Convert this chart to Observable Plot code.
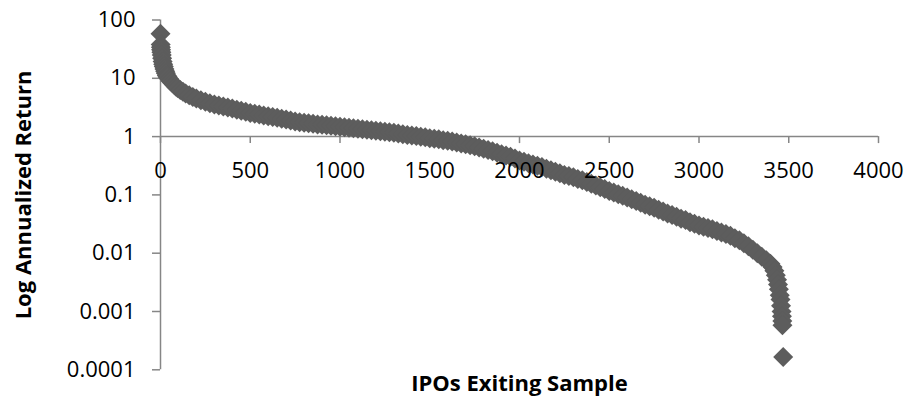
<!DOCTYPE html>
<html>
<head>
<meta charset="utf-8">
<script src="https://cdn.jsdelivr.net/npm/d3@7"></script>
<script src="https://cdn.jsdelivr.net/npm/@observablehq/plot@0.6"></script>
<style>
  body { margin: 0; background: #fff; }
  #chart svg { display: block; }
</style>
</head>
<body>
<div id="chart"></div>
<script>
// Rank of each IPO in the exiting sample, sorted by annualized return (descending)
const ranks = [
  0, 1, 2, 3, 5, 7, 9, 12, 15, 18, 22, 26, 30, 35, 40, 48, 56, 65, 75, 85, 95,
  110, 125, 140, 160, 180, 200, 225, 250, 275, 300, 325, 350, 375, 400, 425, 450,
  475, 500, 525, 550, 575, 600, 625, 650, 675, 700, 725, 750, 775, 800, 825, 850,
  875, 900, 925, 950, 975, 1000, 1025, 1050, 1075, 1100, 1125, 1150, 1175, 1200,
  1225, 1250, 1275, 1300, 1325, 1350, 1375, 1400, 1425, 1450, 1475, 1500, 1525,
  1550, 1575, 1600, 1625, 1650, 1675, 1700, 1725, 1750, 1775, 1800, 1825, 1850,
  1875, 1900, 1925, 1950, 1975, 2000, 2025, 2050, 2075, 2100, 2125, 2150, 2175,
  2200, 2225, 2250, 2275, 2300, 2325, 2350, 2375, 2400, 2425, 2450, 2475, 2500,
  2525, 2550, 2575, 2600, 2625, 2650, 2675, 2700, 2725, 2750, 2775, 2800, 2825,
  2850, 2875, 2900, 2925, 2950, 2975, 3000, 3025, 3050, 3075, 3100, 3125, 3150,
  3175, 3200, 3225, 3250, 3275, 3300, 3325, 3350, 3375, 3398, 3410, 3420, 3428,
  3435, 3440, 3445, 3450, 3454, 3457, 3460, 3462, 3464, 3465, 3469
];

// Annualized return for each ranked IPO
const returns = [
  58, 38, 34, 31, 28, 25, 22, 19.5, 17.5, 16, 14.5, 13.2, 12.2, 11.2, 10.5, 9.7, 9.0, 8.4, 7.8, 7.2, 6.8,
  6.3, 5.9, 5.5, 5.1, 4.8, 4.5, 4.2, 3.95, 3.75, 3.55, 3.4, 3.28, 3.15, 3.02, 2.9, 2.78,
  2.66, 2.55, 2.47, 2.39, 2.31, 2.24, 2.17, 2.1, 2.03, 1.96, 1.89, 1.82, 1.76, 1.72, 1.69, 1.66,
  1.62, 1.59, 1.56, 1.53, 1.5, 1.47, 1.44, 1.42, 1.39, 1.36, 1.34, 1.31, 1.28, 1.26,
  1.23, 1.21, 1.19, 1.16, 1.13, 1.1, 1.07, 1.04, 1.02, 0.99, 0.97, 0.94, 0.92,
  0.9, 0.87, 0.85, 0.82, 0.79, 0.76, 0.74, 0.71, 0.68, 0.65, 0.62, 0.59, 0.56,
  0.53, 0.5, 0.475, 0.45, 0.42, 0.39, 0.37, 0.35, 0.333, 0.316, 0.3, 0.28, 0.266,
  0.25, 0.235, 0.22, 0.21, 0.2, 0.188, 0.178, 0.166, 0.155, 0.145, 0.135, 0.126, 0.117,
  0.11, 0.103, 0.097, 0.09, 0.084, 0.0785, 0.073, 0.068, 0.064, 0.06, 0.0556, 0.052, 0.048,
  0.045, 0.042, 0.039, 0.037, 0.034, 0.032, 0.03, 0.0285, 0.027, 0.0257, 0.024, 0.0226, 0.0214,
  0.02, 0.018, 0.0166, 0.0148, 0.0132, 0.0115, 0.01, 0.0087, 0.0076, 0.0066, 0.0058, 0.005, 0.0042,
  0.0035, 0.0029, 0.0024, 0.0019, 0.0016, 0.00126, 0.001, 0.00083, 0.00069, 0.00058, 0.000166
];

const xTicks = [0, 500, 1000, 1500, 2000, 2500, 3000, 3500, 4000];
const yTicks = [100, 10, 1, 0.1, 0.01, 0.001, 0.0001];

const xTitle = "IPOs Exiting Sample";
const yTitle = "Log Annualized Return";

const points = ranks.map((rank, i) => ({rank, ret: returns[i]}));

// Square diamond marker (rotated square), half-diagonal equal to r
const diamond = {
  draw(ctx, size) {
    const r = Math.sqrt(size / Math.PI);
    ctx.moveTo(0, -r);
    ctx.lineTo(r, 0);
    ctx.lineTo(0, r);
    ctx.lineTo(-r, 0);
    ctx.closePath();
  }
};

const axisColor = "#868686";
const markerColor = "#5d5d5d";
const font = "'Open Sans', sans-serif";

const chart = Plot.plot({
  width: 908,
  height: 405,
  marginLeft: 160,
  marginRight: 30,
  marginTop: 19.5,
  marginBottom: 35.7,
  style: {fontFamily: font, fontSize: "22px", color: "#000", background: "#fff"},
  x: {type: "linear", domain: [0, 4000], axis: null},
  y: {type: "log", domain: [0.0001, 100]},
  marks: [
    Plot.axisY(yTicks, {
      tickSize: 8,
      tickPadding: 17,
      tickFormat: d => String(d),
      stroke: axisColor,
      strokeWidth: 1.5,
      fill: "#000",
      fontSize: 22,
      label: null
    }),
    Plot.ruleX([0], {stroke: axisColor, strokeWidth: 1.5}),
    Plot.ruleY([1], {stroke: axisColor, strokeWidth: 1.5}),
    Plot.ruleX(xTicks, {x: d => d, y1: 1, y2: 1, insetBottom: -7, stroke: axisColor, strokeWidth: 1.5}),
    Plot.dot(points, {x: "rank", y: "ret", symbol: diamond, r: 10, fill: markerColor}),
    Plot.text(xTicks, {x: d => d, y: 1, text: d => String(d), dy: 34, fontSize: 22, fill: "#000"}),
    Plot.text([xTitle], {text: d => d, frameAnchor: "bottom", dy: 21, fontSize: 22, fontWeight: "bold", fill: "#000"}),
    Plot.text([yTitle], {text: d => d, frameAnchor: "left", textAnchor: "middle", dx: -137, rotate: -90, fontSize: 22, fontWeight: "bold", fill: "#000"})
  ]
});

document.getElementById("chart").append(chart);
</script>
</body>
</html>
